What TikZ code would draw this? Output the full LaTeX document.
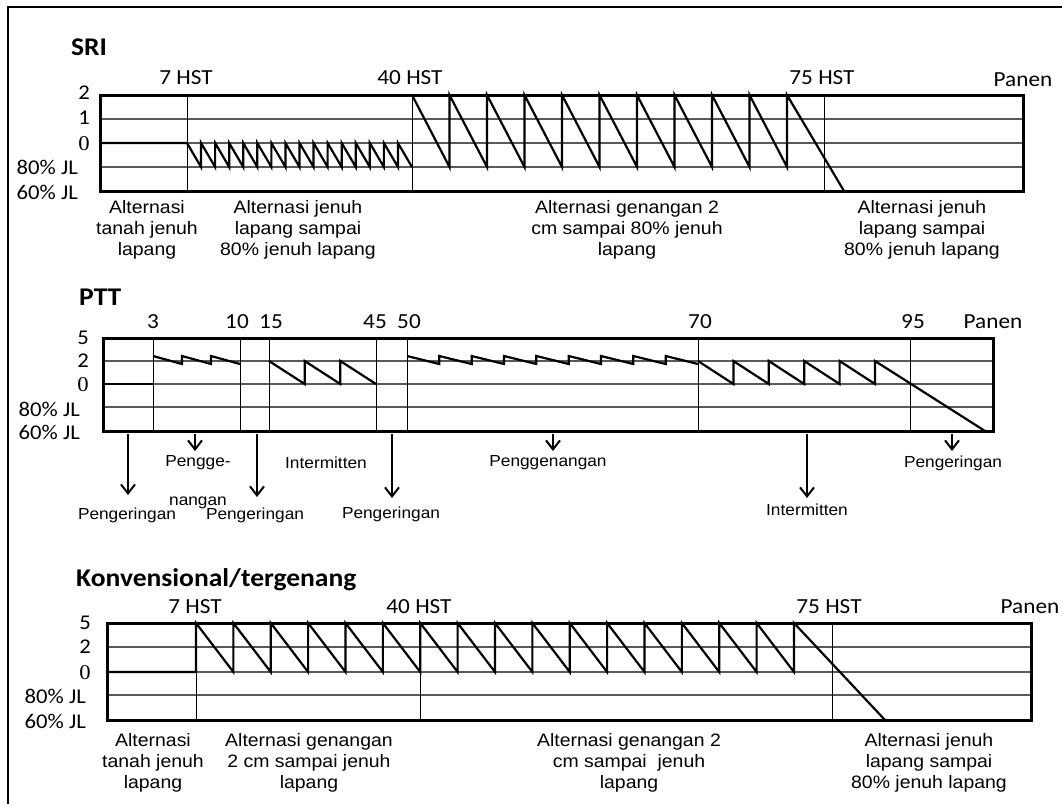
\documentclass[tikz,border=0pt]{standalone}
\usepackage{fontspec}
\newfontfamily\arialf{Liberation Sans}[FakeStretch=1.08]
\newfontfamily\calf{Carlito}[FakeStretch=1.08]
\newfontfamily\timesf{Liberation Serif}[FakeStretch=1.08]
\usetikzlibrary{arrows.meta}

\tikzset{
  panel/.style={line width=3pt},
  gridline/.style={line width=1.1pt, black!65},
  phase/.style={line width=1pt},
  trace/.style={line width=2.2pt},
  flow/.style={line width=2pt, -{Straight Barb[length=9pt,width=14pt,line width=2pt]}},
  axislab/.style={font=\calf\fontsize{21}{21}\selectfont, inner sep=0pt, anchor=east},
  zerolab/.style={font=\timesf\fontsize{21}{21}\selectfont, inner sep=0pt, anchor=east},
  daylab/.style={font=\calf\fontsize{21.5}{22}\selectfont, inner sep=0pt},
  ptitle/.style={font=\calf\bfseries\fontsize{25.5}{26}\selectfont, inner sep=0pt, anchor=west},
  desc/.style={font=\arialf\fontsize{18}{21}\selectfont, align=center, inner sep=0pt},
  flowlab/.style={font=\arialf\fontsize{16}{16}\selectfont, inner sep=0pt},
}

\begin{document}
\begin{tikzpicture}[x=1pt,y=-1pt]
\useasboundingbox (0,0) rectangle (1062,804);
% Frame
\draw[line width=1.5pt] (8,804) -- (8,7) -- (1062,7);

% ---------------- SRI ----------------
\node[ptitle] (sriT) at (71,47) {SRI};
\foreach \y in {119,143,167} \draw[gridline] (100,\y) -- (1023,\y);
\foreach \x in {187,412,824} \draw[phase] (\x,95) -- (\x,191);
% saturated, then small alternation
\draw[trace] (100,143) -- (187,143)
  \foreach \i in {1,...,15} { -- ({187+\i*14.0625},167) -- ({187+\i*14.0625},143) } -- (412,167);
% 2 cm to 80% JL
\draw[trace] (412,95)
  \foreach \i in {1,...,9} { -- ({412+\i*37.5},167) -- ({412+\i*37.5},95) } -- (787,167) -- (787,95) -- (844,191);
\draw[panel] (100,95) rectangle (1023,191);
\node[axislab] (sriA) at (90,93) {2};
\node[axislab] (sriB) at (90,118) {1};
\node[zerolab] (sriC) at (90,144) {0};
\node[axislab] (sriD) at (78,167) {80\% JL};
\node[axislab] (sriE) at (78,192) {60\% JL};
\node[daylab] (sri7) at (186,78) {7 HST};
\node[daylab] (sri40) at (410,78) {40 HST};
\node[daylab] (sri75) at (822,78) {75 HST};
\node[daylab] (sriP) at (1023,80) {Panen};
\node[desc] (sriK1) at (147,230) {Alternasi\\tanah jenuh\\lapang};
\node[desc] (sriK2) at (298,230) {Alternasi jenuh\\lapang sampai\\80\% jenuh lapang};
\node[desc] (sriK3) at (627,230) {Alternasi genangan 2\\cm sampai 80\% jenuh\\lapang};
\node[desc] (sriK4) at (922,230) {Alternasi jenuh\\lapang sampai\\80\% jenuh lapang};

% ---------------- PTT ----------------
\node[ptitle] (pttT) at (79,297) {PTT};
\foreach \y in {361,384,407} \draw[gridline] (103,\y) -- (993,\y);
\foreach \x in {153,240,269,376,407,698,910} \draw[phase] (\x,338) -- (\x,431);
\draw[trace] (103,384) -- (153,384);
\draw[trace] (153,356)
  \foreach \i in {1,2} { -- ({153+\i*29},364) -- ({153+\i*29},356) } -- (240,364);
\draw[trace] (269,361)
  \foreach \i in {1,2} { -- ({269+\i*35.67},384) -- ({269+\i*35.67},361) } -- (376,384);
\draw[trace] (407,356)
  \foreach \i in {1,...,8} { -- ({407+\i*32.33},364) -- ({407+\i*32.33},356) } -- (698,364);
\draw[trace] (698,361)
  \foreach \i in {1,...,5} { -- ({698+\i*35.4},384) -- ({698+\i*35.4},361) } -- (985,431);
\draw[panel] (103,338) rectangle (993,431);
\node[axislab] (pttA) at (89,338) {5};
\node[axislab] (pttB) at (89,361) {2};
\node[zerolab] (pttC) at (89,385) {0};
\node[axislab] (pttD) at (80,409) {80\% JL};
\node[axislab] (pttE) at (80,432) {60\% JL};
\foreach \x/\d/\n in {153/3/a,237/10/b,271/15/c,375/45/d,409/50/e,700/70/f,913/95/g}
  \node[daylab] (ptt\n) at (\x,322) {\d};
\node[daylab] (pttP) at (993,322) {Panen};
% water management arrows
\foreach \n/\x/\y in {1/128/495,2/195/451,3/257/497,4/392/498,5/553/451,6/807/498,7/952/451} {
  \coordinate (f\n s) at (\x,434);
  \coordinate (f\n e) at (\x,\y);
  \draw[flow] (f\n s) -- (f\n e);
}
\node[flowlab] (g1) at (127,515) {Pengeringan};
\node[flowlab] (g2) at (198,463) {Pengge-};
\node[flowlab] (g2b) at (198,503) {nangan};
\node[flowlab] (g3) at (255,515) {Pengeringan};
\node[flowlab] (g3b) at (326,463) {Intermitten};
\node[flowlab] (g4) at (391,514) {Pengeringan};
\node[flowlab] (g5) at (548,463) {Penggenangan};
\node[flowlab] (g6) at (807,510) {Intermitten};
\node[flowlab] (g7) at (953,463) {Pengeringan};

% ---------------- Konvensional ----------------
\node[ptitle] (konT) at (76,580) {Konvensional/tergenang};
\foreach \y in {647,672,695} \draw[gridline] (107,\y) -- (1031,\y);
\draw[phase] (196,623) -- (196,720);
\draw[phase] (420,672) -- (420,720);
\draw[phase] (832,623) -- (832,720);
\draw[trace] (107,672) -- (196,672) -- (196,623)
  \foreach \i in {1,...,15} { -- ({196+\i*37.375},672) -- ({196+\i*37.375},623) } -- (794,672) -- (794,623) -- (885,720);
\draw[panel] (107,623) rectangle (1031,720);
\node[axislab] (konA) at (91,623) {5};
\node[axislab] (konB) at (91,647) {2};
\node[zerolab] (konC) at (91,673) {0};
\node[axislab] (konD) at (86,696) {80\% JL};
\node[axislab] (konE) at (86,721) {60\% JL};
\node[daylab] (kon7) at (195,607) {7 HST};
\node[daylab] (kon40) at (419,607) {40 HST};
\node[daylab] (kon75) at (829,607) {75 HST};
\node[daylab] (konP) at (1030,607) {Panen};
\node[desc] (konK1) at (153,763) {Alternasi\\tanah jenuh\\lapang};
\node[desc] (konK2) at (309,763) {Alternasi genangan\\2 cm sampai jenuh\\lapang};
\node[desc] (konK3) at (629,763) {Alternasi genangan 2\\cm sampai~ jenuh\\lapang};
\node[desc] (konK4) at (929,763) {Alternasi jenuh\\lapang sampai\\80\% jenuh lapang};
\end{tikzpicture}
\end{document}
